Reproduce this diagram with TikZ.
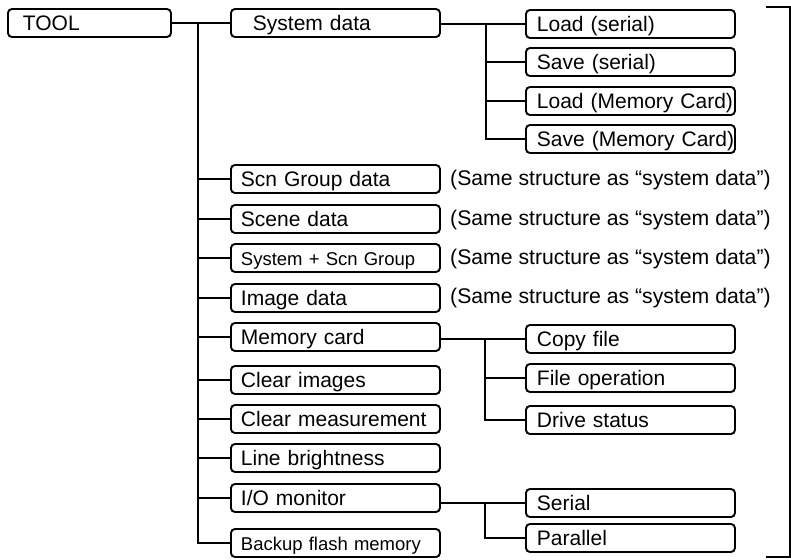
\documentclass[tikz,border=0pt]{standalone}
\usepackage{fontspec}
\setmainfont{Liberation Sans}
\begin{document}
\begin{tikzpicture}[x=1pt,y=-1pt,
  box/.style={draw, line width=1.9pt, rounded corners=4pt, anchor=west,
    minimum height=28pt, text height=15pt, text depth=0pt, inner ysep=0pt,
    align=left, font=\fontsize{21}{24}\selectfont},
  lbox/.style={box, inner xsep=10pt, text width=189pt},
  rbox/.style={box, inner xsep=11pt, text width=187pt},
  small/.style={font=\fontsize{18.5}{22}\selectfont},
  note/.style={anchor=west, inner sep=0pt, text height=15pt, text depth=0pt,
    font=\fontsize{21.2}{24}\selectfont},
  conn/.style={line width=1.9pt},
  brk/.style={line width=1.1pt}]
\useasboundingbox (0,0) rectangle (791,559);
% root
\node[box, inner xsep=15pt, text width=133pt] (tool) at (7,23) {TOOL};
% left column
\node[box, inner xsep=22pt, text width=165pt] (sys) at (230,23) {System data};
\node[lbox] (scn) at (230,179) {Scn Group data};
\node[lbox] (scene) at (230,219) {Scene data};
\node[lbox, small] (sysscn) at (230,258) {System + Scn Group};
\node[lbox] (img) at (230,298) {Image data};
\node[lbox] (mem) at (230,337) {Memory card};
\node[lbox] (clri) at (230,380) {Clear images};
\node[lbox] (clrm) at (230,419) {Clear measurement};
\node[lbox] (line) at (230,458) {Line brightness};
\node[lbox] (io) at (230,498) {I/O monitor};
\node[lbox, small] (bk) at (230,543) {Backup flash memory};
% right column
\node[rbox] (ls) at (525,24) {Load (serial)};
\node[rbox] (ss) at (525,62) {Save (serial)};
\node[rbox] (lmc) at (525,101) {\mbox{Load (Memory Card)}};
\node[rbox] (smc) at (525,139) {\mbox{Save (Memory Card)}};
\node[rbox] (copy) at (525,339) {Copy file};
\node[rbox] (fop) at (525,378) {File operation};
\node[rbox] (drv) at (525,420) {Drive status};
\node[rbox] (ser) at (525,503) {Serial};
\node[rbox] (par) at (525,538) {Parallel};
% notes
\node[note] (n1) at (450,178) {(Same structure as “system data”)};
\node[note] (n2) at (450,218) {(Same structure as “system data”)};
\node[note] (n3) at (450,257) {(Same structure as “system data”)};
\node[note] (n4) at (450,296) {(Same structure as “system data”)};
% trunk
\coordinate (tk) at (198,23);
\coordinate (sb) at (486,24);
\coordinate (mb) at (485,339);
\coordinate (ib) at (485,503);
\draw[conn] (tool.east) -- (sys.west);
\draw[conn] (tk) |- (bk.west);
\foreach \n in {scn,scene,sysscn,img,mem,clri,clrm,line,io}
  \draw[conn] (tk |- \n.west) -- (\n.west);
% system data branch
\draw[conn] (sys.east |- ls.west) -- (ls.west);
\draw[conn] (sb) |- (smc.west);
\foreach \n in {ss,lmc}
  \draw[conn] (sb |- \n.west) -- (\n.west);
% memory card branch
\draw[conn] (mem.east |- copy.west) -- (copy.west);
\draw[conn] (mb) |- (drv.west);
\draw[conn] (mb |- fop.west) -- (fop.west);
% I/O branch
\draw[conn] (io.east |- ser.west) -- (ser.west);
\draw[conn] (ib) |- (par.west);
% bracket
\coordinate (bt) at (766,7);
\coordinate (bb) at (766,557);
\draw[brk] (bt) -- ++(24,0) |- (bb);
\end{tikzpicture}
\end{document}
